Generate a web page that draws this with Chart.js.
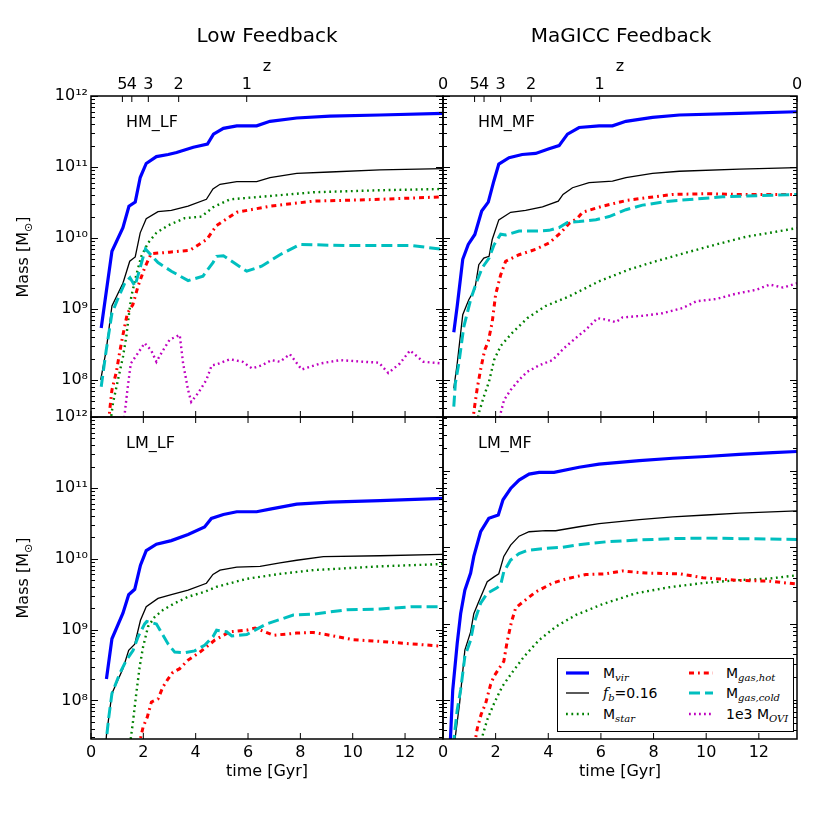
<!DOCTYPE html>
<html>
<head>
<meta charset="utf-8">
<script src="https://cdn.jsdelivr.net/npm/chart.js@4.4.1/dist/chart.umd.min.js"></script>
<style>
  html, body { margin: 0; padding: 0; background: #fff; }
  #page { position: relative; width: 813px; height: 813px; font-family: "DejaVu Sans", sans-serif; color: #000; }
  #page canvas { position: absolute; left: 0; top: 0; }
  .title { position: absolute; top: 22px; font-size: 20px; line-height: 26px; transform: translateX(-50%); white-space: nowrap; }
  .ylab { position: absolute; font-size: 16px; white-space: nowrap; transform: translate(-50%, -50%) rotate(-90deg); }
  .ylab sub { font-size: 11px; }
  #legend { position: absolute; left: 557px; top: 658px; width: 237px; height: 74px; border: 1.5px solid #000;
            background: #fff; box-sizing: border-box; z-index: 5; font-size: 14px; }
  #legend .item { position: absolute; height: 20px; line-height: 20px; white-space: nowrap; }
  #legend svg { position: absolute; top: 6px; }
  #legend .txt { position: absolute; top: 0; }
  #legend sub { font-family: "DejaVu Serif", serif; font-style: italic; font-size: 10px; vertical-align: -3px; }
  #legend i.f { font-family: "DejaVu Serif", serif; }
</style>
</head>
<body>
<div id="page">
  <canvas id="cTL" width="813" height="813"></canvas>
  <canvas id="cTR" width="813" height="813"></canvas>
  <canvas id="cBL" width="813" height="813"></canvas>
  <canvas id="cBR" width="813" height="813"></canvas>

  <div class="title" style="left:267px">Low Feedback</div>
  <div class="title" style="left:621px">MaGICC Feedback</div>
  <div class="ylab" style="left:24px; top:257px">Mass [M<sub>⊙</sub>]</div>
  <div class="ylab" style="left:24px; top:578px">Mass [M<sub>⊙</sub>]</div>

  <div id="legend">
    <div class="item" style="left:8px; top:4px">
      <svg width="23" height="8"><line x1="0" y1="4" x2="23" y2="4" stroke="#0000ff" stroke-width="3.2"/></svg>
      <span class="txt" style="left:37px">M<sub>vir</sub></span>
    </div>
    <div class="item" style="left:8px; top:24px">
      <svg width="23" height="8"><line x1="0" y1="4" x2="23" y2="4" stroke="#000" stroke-width="1.3"/></svg>
      <span class="txt" style="left:37px"><i class="f">f</i><sub>b</sub>=0.16</span>
    </div>
    <div class="item" style="left:8px; top:45px">
      <svg width="23" height="8"><line x1="0" y1="4" x2="23" y2="4" stroke="#008000" stroke-width="2.4" stroke-dasharray="1.8 3.6"/></svg>
      <span class="txt" style="left:37px">M<sub>star</sub></span>
    </div>
    <div class="item" style="left:131px; top:4px">
      <svg width="24" height="8"><line x1="0" y1="4" x2="24" y2="4" stroke="#ff0000" stroke-width="3" stroke-dasharray="5 4 1.8 4"/></svg>
      <span class="txt" style="left:37px">M<sub>gas,hot</sub></span>
    </div>
    <div class="item" style="left:131px; top:24px">
      <svg width="24" height="8"><line x1="0" y1="4" x2="24" y2="4" stroke="#00bfbf" stroke-width="3" stroke-dasharray="11 5"/></svg>
      <span class="txt" style="left:37px">M<sub>gas,cold</sub></span>
    </div>
    <div class="item" style="left:131px; top:45px">
      <svg width="24" height="8"><line x1="0" y1="4" x2="24" y2="4" stroke="#bf00bf" stroke-width="2.4" stroke-dasharray="1.8 3.2"/></svg>
      <span class="txt" style="left:37px">1e3 M<sub>OVI</sub></span>
    </div>
  </div>
</div>

<script>
// axes
const tMax = 13.45;
const xTicks = [0, 2, 4, 6, 8, 10, 12];
const zTimes = [1.2, 1.56, 2.19, 3.35, 5.95, 13.45];
const zLabels = ['5', '4', '3', '2', '1', '0'];
const yTicks = [1e8, 1e9, 1e10, 1e11, 1e12];
const yTickLabels = ['10⁸', '10⁹', '10¹⁰', '10¹¹', '10¹²'];

// [time Gyr, mass Msun]
// HM_LF
const hmlfVir = [[0.39,5.4e8],[0.80,6.5e9],[1.22,1.4e10],[1.45,2.8e10],[1.69,3.2e10],[1.88,7.1e10],[2.11,1.12e11],[2.50,1.4e11],[2.95,1.5e11],[3.27,1.6e11],[3.91,1.9e11],[4.45,2.1e11],[4.68,2.9e11],[5.06,3.5e11],[5.57,3.8e11],[6.33,3.8e11],[6.84,4.4e11],[7.86,4.9e11],[9.13,5.2e11],[11.04,5.4e11],[13.45,5.7e11]];
const hmlfFb = [[0.37,1.0e8],[0.58,2.6e8],[0.80,1.1e9],[1.22,2.3e9],[1.48,4.7e9],[1.69,5.4e9],[1.88,1.18e10],[2.11,1.86e10],[2.56,2.35e10],[3.07,2.45e10],[3.71,2.8e10],[4.41,3.5e10],[4.66,4.9e10],[4.93,5.7e10],[5.57,6.2e10],[6.33,6.2e10],[6.84,7.1e10],[7.86,8.1e10],[9.13,8.5e10],[11.04,9.1e10],[13.45,9.5e10]];
const hmlfStar = [[0.72,2.2e7],[0.84,4.7e7],[1.03,1.0e8],[1.22,2.1e8],[1.35,4.1e8],[1.44,7.8e8],[1.54,1.5e9],[1.73,3.0e9],[1.92,5.5e9],[2.18,8.5e9],[2.50,1.18e10],[2.94,1.5e10],[3.58,1.9e10],[4.22,2.0e10],[4.66,2.7e10],[5.31,3.5e10],[6.84,3.9e10],[8.5,4.4e10],[11.04,4.7e10],[13.45,4.9e10]];
const hmlfHot = [[0.68,2.5e7],[0.71,3.6e7],[0.80,7.2e7],[0.97,1.3e8],[1.10,2.5e8],[1.22,4.3e8],[1.39,8.7e8],[1.60,1.15e9],[1.80,2.1e9],[2.05,3.8e9],[2.30,6.0e9],[3.0,6.3e9],[3.78,6.7e9],[4.42,9.5e9],[4.80,1.5e10],[5.57,2.3e10],[6.84,2.8e10],[8.5,3.3e10],[11.04,3.5e10],[13.45,3.8e10]];
const hmlfCold = [[0.39,8e7],[0.58,2.6e8],[0.80,8.7e8],[1.03,1.4e9],[1.29,2.3e9],[1.49,2.75e9],[1.68,2.1e9],[2.08,7.0e9],[2.56,4.5e9],[3.07,3.4e9],[3.71,2.5e9],[4.28,2.9e9],[4.66,4.5e9],[4.80,5.5e9],[5.06,5.6e9],[5.95,3.4e9],[6.52,4.0e9],[7.22,5.8e9],[7.99,8.1e9],[9.77,7.8e9],[12.3,7.8e9],[13.45,6.9e9]];
const hmlfOvi = [[1.25,2.5e7],[1.39,7.2e7],[1.52,1.7e8],[1.80,2.4e8],[2.05,3.3e8],[2.30,2.6e8],[2.50,1.8e8],[2.75,2.6e8],[3.01,3.7e8],[3.39,4.3e8],[3.52,1.7e8],[3.71,7.2e7],[3.83,4.9e7],[4.09,6.5e7],[4.41,1.0e8],[4.61,1.6e8],[4.79,1.65e8],[5.31,1.95e8],[5.8,1.8e8],[6.15,1.45e8],[6.52,1.6e8],[6.9,1.9e8],[7.22,1.8e8],[7.6,2.3e8],[8.05,1.4e8],[8.75,1.7e8],[9.52,1.9e8],[10.4,1.8e8],[11.0,1.75e8],[11.36,1.25e8],[11.8,1.7e8],[12.19,2.6e8],[12.7,1.8e8],[13.45,1.7e8]];

// HM_MF
const hmmfVir = [[0.41,4.7e8],[0.54,1.1e9],[0.75,5.0e9],[0.96,8.1e9],[1.21,1.12e10],[1.47,2.4e10],[1.72,3.2e10],[1.93,6.3e10],[2.12,1.1e11],[2.51,1.35e11],[3.01,1.5e11],[3.52,1.55e11],[4.03,1.8e11],[4.41,2.0e11],[4.73,2.9e11],[5.17,3.6e11],[5.93,3.8e11],[6.44,3.8e11],[6.95,4.4e11],[7.96,5.0e11],[8.98,5.4e11],[11.26,5.7e11],[13.45,6.0e11]];
const hmmfFb = [[0.41,7.6e7],[0.54,1.7e8],[0.75,8.3e8],[0.98,1.35e9],[1.21,1.9e9],[1.36,4.2e9],[1.55,5.2e9],[1.75,5.5e9],[1.87,9.5e9],[2.12,1.8e10],[2.57,2.3e10],[3.14,2.45e10],[3.78,2.75e10],[4.38,3.3e10],[4.56,4.1e10],[4.92,5.1e10],[5.55,6.0e10],[6.44,6.3e10],[6.95,7.1e10],[7.96,8.1e10],[8.98,8.7e10],[11.26,9.3e10],[13.45,9.8e10]];
const hmmfStar = [[1.30,2.5e7],[1.36,3.4e7],[1.55,5.8e7],[1.75,9.5e7],[1.94,1.9e8],[2.19,3.0e8],[2.63,4.6e8],[3.2,7.4e8],[3.90,1.1e9],[4.79,1.5e9],[5.93,2.45e9],[7.08,3.6e9],[8.09,4.7e9],[9.23,6.2e9],[10.38,8.1e9],[11.52,1.04e10],[12.41,1.18e10],[13.45,1.38e10]];
const hmmfHot = [[1.12,2.5e7],[1.20,4.2e7],[1.30,7.6e7],[1.43,1.4e8],[1.58,2.6e8],[1.72,3.5e8],[1.87,6.5e8],[2.0,1.6e9],[2.19,3.0e9],[2.38,4.7e9],[2.89,5.8e9],[3.52,6.9e9],[4.03,8.5e9],[4.47,1.18e10],[4.79,1.6e10],[5.11,1.9e10],[5.3,2.3e10],[6.06,2.8e10],[7.01,3.4e10],[8.73,4.1e10],[10.0,4.2e10],[11.26,4.1e10],[12.53,4.1e10],[13.45,4.1e10]];
const hmmfCold = [[0.41,4.2e7],[0.47,9e7],[0.60,1.7e8],[0.79,5.6e8],[1.05,1.35e9],[1.26,2.3e9],[1.49,3.8e9],[1.75,5.2e9],[1.94,8.0e9],[2.19,1.13e10],[2.38,1.1e10],[2.89,1.25e10],[3.52,1.25e10],[4.03,1.28e10],[4.41,1.4e10],[4.73,1.65e10],[5.17,1.7e10],[5.81,1.8e10],[6.31,2.0e10],[6.95,2.5e10],[7.58,2.9e10],[8.6,3.3e10],[10.63,3.8e10],[12.53,4.0e10],[13.45,4.1e10]];
const hmmfOvi = [[2.15,2.5e7],[2.19,3.4e7],[2.32,5.2e7],[2.57,7.2e7],[2.89,1.0e8],[3.2,1.3e8],[3.65,1.6e8],[4.16,1.9e8],[4.6,2.8e8],[5.05,3.9e8],[5.43,5.1e8],[5.87,7.4e8],[6.19,7.1e8],[6.57,6.5e8],[6.82,7.6e8],[7.58,8.0e8],[8.35,8.7e8],[9.11,1.03e9],[9.62,1.28e9],[10.38,1.38e9],[11.14,1.64e9],[11.9,1.86e9],[12.41,2.2e9],[12.92,2.0e9],[13.45,2.3e9]];

// LM_LF
const lmlfVir = [[0.59,2.0e8],[0.80,7.4e8],[1.22,1.7e9],[1.44,3.1e9],[1.67,3.7e9],[1.89,8.1e9],[2.11,1.3e10],[2.50,1.6e10],[3.07,1.8e10],[3.71,2.2e10],[4.34,2.8e10],[4.60,3.7e10],[5.06,4.2e10],[5.57,4.6e10],[6.33,4.6e10],[6.84,5.0e10],[7.86,5.9e10],[9.13,6.3e10],[11.04,6.6e10],[13.45,7.1e10]];
const lmlfFb = [[0.55,2.0e7],[0.59,3.2e7],[0.80,1.25e8],[1.22,2.8e8],[1.44,5.1e8],[1.67,6.2e8],[1.89,1.35e9],[2.11,2.1e9],[2.56,2.75e9],[3.07,3.1e9],[3.71,3.6e9],[4.41,4.5e9],[4.66,6.0e9],[4.93,6.9e9],[5.57,7.6e9],[6.46,7.8e9],[7.22,8.7e9],[7.86,9.5e9],[8.88,1.07e10],[11.04,1.1e10],[13.45,1.15e10]];
const lmlfStar = [[1.49,2.4e7],[1.61,5.2e7],[1.73,1.25e8],[1.86,3.0e8],[1.99,5.7e8],[2.18,1.1e9],[2.43,1.5e9],[2.76,1.9e9],[3.2,2.35e9],[3.71,2.9e9],[4.34,3.4e9],[4.79,4.0e9],[5.95,5.2e9],[7.22,6.1e9],[8.5,6.9e9],[11.04,7.8e9],[13.45,8.4e9]];
const lmlfHot = [[1.86,2.2e7],[1.90,3e7],[1.99,4.2e7],[2.15,5.8e7],[2.31,9.5e7],[2.56,1.05e8],[2.75,1.55e8],[2.94,2.0e8],[3.13,2.5e8],[3.39,2.8e8],[3.71,3.7e8],[4.09,4.6e8],[4.34,5.4e8],[4.73,7.1e8],[5.31,9.3e8],[5.95,9.8e8],[6.27,1.05e9],[6.97,8.3e8],[7.86,8.9e8],[8.5,9.1e8],[9.13,8.3e8],[10.0,7.2e8],[11.04,6.8e8],[12.19,6.3e8],[13.45,5.8e8]];
const lmlfCold = [[0.55,2.0e7],[0.59,2.9e7],[0.68,5.8e7],[0.80,1.25e8],[1.10,2.4e8],[1.35,3.7e8],[1.61,5.1e8],[1.80,7.9e8],[2.05,1.2e9],[2.13,1.3e9],[2.50,1.2e9],[2.94,6.3e8],[3.2,4.8e8],[3.58,4.7e8],[3.96,5.0e8],[4.34,6.0e8],[4.66,7.9e8],[4.80,9.8e8],[5.18,9.3e8],[5.38,8.1e8],[5.95,8.5e8],[6.71,1.2e9],[7.73,1.6e9],[8.5,1.65e9],[9.77,1.9e9],[11.04,1.95e9],[12.3,2.1e9],[13.45,2.1e9]];

// LM_MF
const lmmfVir = [[0.26,2.5e7],[0.28,2.95e7],[0.37,1.35e8],[0.54,5.5e8],[0.67,1.35e9],[0.83,2.75e9],[1.05,4.6e9],[1.17,7.6e9],[1.43,1.6e10],[1.74,2.4e10],[2.10,2.65e10],[2.28,4.2e10],[2.57,5.9e10],[2.89,7.6e10],[3.27,9.1e10],[3.65,9.6e10],[4.22,9.6e10],[5.17,1.12e11],[5.93,1.23e11],[7.46,1.37e11],[8.73,1.47e11],[10.0,1.55e11],[11.26,1.65e11],[12.53,1.74e11],[13.45,1.8e11]];
const lmmfFb = [[0.43,2.5e7],[0.45,2.95e7],[0.63,9e7],[0.83,4.5e8],[1.05,7.8e8],[1.17,1.35e9],[1.36,1.95e9],[1.68,3.55e9],[1.94,4.1e9],[2.12,4.5e9],[2.31,7.6e9],[2.57,1.07e10],[2.89,1.4e10],[3.27,1.6e10],[3.9,1.65e10],[4.28,1.65e10],[5.17,1.86e10],[5.93,2.05e10],[7.46,2.3e10],[8.73,2.5e10],[10.0,2.65e10],[11.26,2.8e10],[13.45,3.0e10]];
const lmmfStar = [[1.40,2.5e7],[1.49,3.3e7],[1.68,5.5e7],[1.94,9e7],[2.25,1.5e8],[2.63,2.3e8],[3.08,3.7e8],[3.65,6.1e8],[4.28,9.1e8],[5.05,1.3e9],[6.06,1.8e9],[7.33,2.5e9],[8.6,3.0e9],[9.87,3.4e9],[11.14,3.7e9],[12.41,3.9e9],[13.45,4.3e9]];
const lmmfHot = [[1.19,2.5e7],[1.30,4.2e7],[1.45,6.5e7],[1.62,9e7],[1.81,1.6e8],[1.94,2.05e8],[2.15,2.65e8],[2.31,3.2e8],[2.44,5.9e8],[2.60,1.05e9],[2.76,1.6e9],[2.89,1.75e9],[3.52,2.6e9],[4.16,3.4e9],[4.73,3.9e9],[5.43,4.4e9],[6.19,4.5e9],[6.82,4.9e9],[7.71,4.6e9],[8.98,4.5e9],[9.87,4.0e9],[11.14,3.7e9],[12.41,3.6e9],[13.45,3.3e9]];
const lmmfCold = [[0.39,2.5e7],[0.41,2.95e7],[0.54,7.4e7],[0.67,1.35e8],[0.83,3.7e8],[1.05,6.1e8],[1.17,1.0e9],[1.43,1.85e9],[1.68,2.5e9],[2.02,2.9e9],[2.19,3.2e9],[2.31,4.8e9],[2.57,6.8e9],[2.89,8.3e9],[3.2,9.1e9],[3.9,9.7e9],[4.54,1.0e10],[5.04,1.07e10],[6.19,1.18e10],[7.46,1.25e10],[8.73,1.3e10],[10.0,1.32e10],[11.26,1.3e10],[13.45,1.27e10]];

// line styles: vir, fb, star, hot, cold, OVI
const styles = [
  { color: '#0000ff', width: 3.2, dash: [] },
  { color: '#000000', width: 1.3, dash: [] },
  { color: '#008000', width: 2.4, dash: [1.8, 3.6] },
  { color: '#ff0000', width: 3, dash: [5, 4, 1.8, 4] },
  { color: '#00bfbf', width: 3, dash: [11, 5] },
  { color: '#bf00bf', width: 2.4, dash: [1.8, 3.2] },
];

const panels = [
  { id: 'cTL', label: 'HM_LF', series: [hmlfVir, hmlfFb, hmlfStar, hmlfHot, hmlfCold, hmlfOvi],
    ymin: 3e7, ymax: 1e12, left: true, bottom: false, pad: { left: 21, top: 57, right: 370, bottom: 396 } },
  { id: 'cTR', label: 'HM_MF', series: [hmmfVir, hmmfFb, hmmfStar, hmmfHot, hmmfCold, hmmfOvi],
    ymin: 3e7, ymax: 1e12, left: false, bottom: false, pad: { left: 443, top: 57, right: 16, bottom: 396 } },
  { id: 'cBL', label: 'LM_LF', series: [lmlfVir, lmlfFb, lmlfStar, lmlfHot, lmlfCold],
    ymin: 2.85e7, ymax: 1e12, left: true, bottom: true, pad: { left: 21, top: 417, right: 370, bottom: 32 } },
  { id: 'cBR', label: 'LM_MF', series: [lmmfVir, lmmfFb, lmmfStar, lmmfHot, lmmfCold],
    ymin: 3.08e7, ymax: 5.1e11, left: false, bottom: true, pad: { left: 443, top: 417, right: 16, bottom: 32 } },
];

Chart.defaults.font.family = '"DejaVu Sans", sans-serif';
Chart.defaults.color = '#000';

// inward tick marks, frame and panel name, drawn over the lines like matplotlib
const frameTicks = {
  id: 'frameTicks',
  afterDatasetsDraw(chart, args, opts) {
    const { ctx, chartArea: a, scales } = chart;
    const x = scales.x, y = scales.y;
    ctx.save();
    ctx.strokeStyle = '#000';
    ctx.lineWidth = 1;
    ctx.beginPath();
    xTicks.forEach(v => {
      const px = x.getPixelForValue(v);
      ctx.moveTo(px, a.bottom); ctx.lineTo(px, a.bottom - 6);
      if (!opts.zTop) { ctx.moveTo(px, a.top); ctx.lineTo(px, a.top + 6); }
    });
    if (opts.zTop) {
      zTimes.forEach(v => {
        const px = x.getPixelForValue(v);
        ctx.moveTo(px, a.top); ctx.lineTo(px, a.top + 6);
      });
    }
    for (let e = 7; e <= 12; e++) {
      for (let m = 1; m <= 9; m++) {
        const v = m * Math.pow(10, e);
        if (v < y.min || v > y.max) continue;
        const py = Math.round(y.getPixelForValue(v)) + 0.5;
        const len = m === 1 ? 7 : 4;
        ctx.moveTo(a.left, py); ctx.lineTo(a.left + len, py);
        ctx.moveTo(a.right, py); ctx.lineTo(a.right - len, py);
      }
    }
    ctx.stroke();
    ctx.lineWidth = 1.5;
    ctx.strokeRect(a.left, a.top, a.right - a.left, a.bottom - a.top);
    ctx.fillStyle = '#000';
    ctx.font = '16px "DejaVu Sans"';
    ctx.textBaseline = 'middle';
    ctx.fillText(opts.label, a.left + 35, a.top + 27);
    ctx.restore();
  }
};

function makeChart(p) {
  const scales = {
    x: {
      type: 'linear', min: 0, max: tMax, display: p.bottom,
      grid: { display: false, drawTicks: false }, border: { display: false },
      ticks: { font: { size: 16 }, padding: 4, autoSkip: false, maxRotation: 0, minRotation: 0,
               callback: v => String(v) },
      afterBuildTicks: s => { s.ticks = xTicks.map(v => ({ value: v })); },
      title: { display: true, text: 'time [Gyr]', font: { size: 16 }, padding: 0 },
    },
    y: {
      type: 'logarithmic', min: p.ymin, max: p.ymax, display: p.left,
      grid: { display: false, drawTicks: false }, border: { display: false },
      ticks: { font: { size: 16 }, padding: 3, autoSkip: false,
               callback: (v, i) => yTickLabels[i] },
      afterBuildTicks: s => { s.ticks = yTicks.map(v => ({ value: v })); },
    },
  };
  if (p.bottom) scales.x.afterFit = s => { s.height = 42; };
  if (p.left) scales.y.afterFit = s => { s.width = 70; };
  if (!p.bottom) {
    scales.z = {
      type: 'linear', position: 'top', min: 0, max: tMax,
      grid: { display: false, drawTicks: false }, border: { display: false },
      ticks: { font: { size: 16 }, padding: 2, autoSkip: false, maxRotation: 0, minRotation: 0,
               callback: (v, i) => zLabels[i] },
      afterBuildTicks: s => { s.ticks = zTimes.map(v => ({ value: v })); },
      title: { display: true, text: 'z', font: { size: 16 }, padding: 0 },
      afterFit: s => { s.height = 39; },
    };
  }

  const datasets = p.series.map((pts, i) => ({
    data: pts.map(([t, m]) => ({ x: t, y: m })),
    borderColor: styles[i].color,
    borderWidth: styles[i].width,
    borderDash: styles[i].dash,
    borderCapStyle: 'butt',
    pointRadius: 0,
    tension: 0,
    fill: false,
    order: -i,
  }));

  new Chart(document.getElementById(p.id), {
    type: 'line',
    data: { datasets },
    options: {
      responsive: false,
      animation: false,
      events: [],
      layout: { padding: p.pad },
      scales,
      plugins: {
        legend: { display: false },
        tooltip: { enabled: false },
        frameTicks: { label: p.label, zTop: !p.bottom },
      },
    },
    plugins: [frameTicks],
  });
}

panels.forEach(makeChart);
</script>
</body>
</html>
